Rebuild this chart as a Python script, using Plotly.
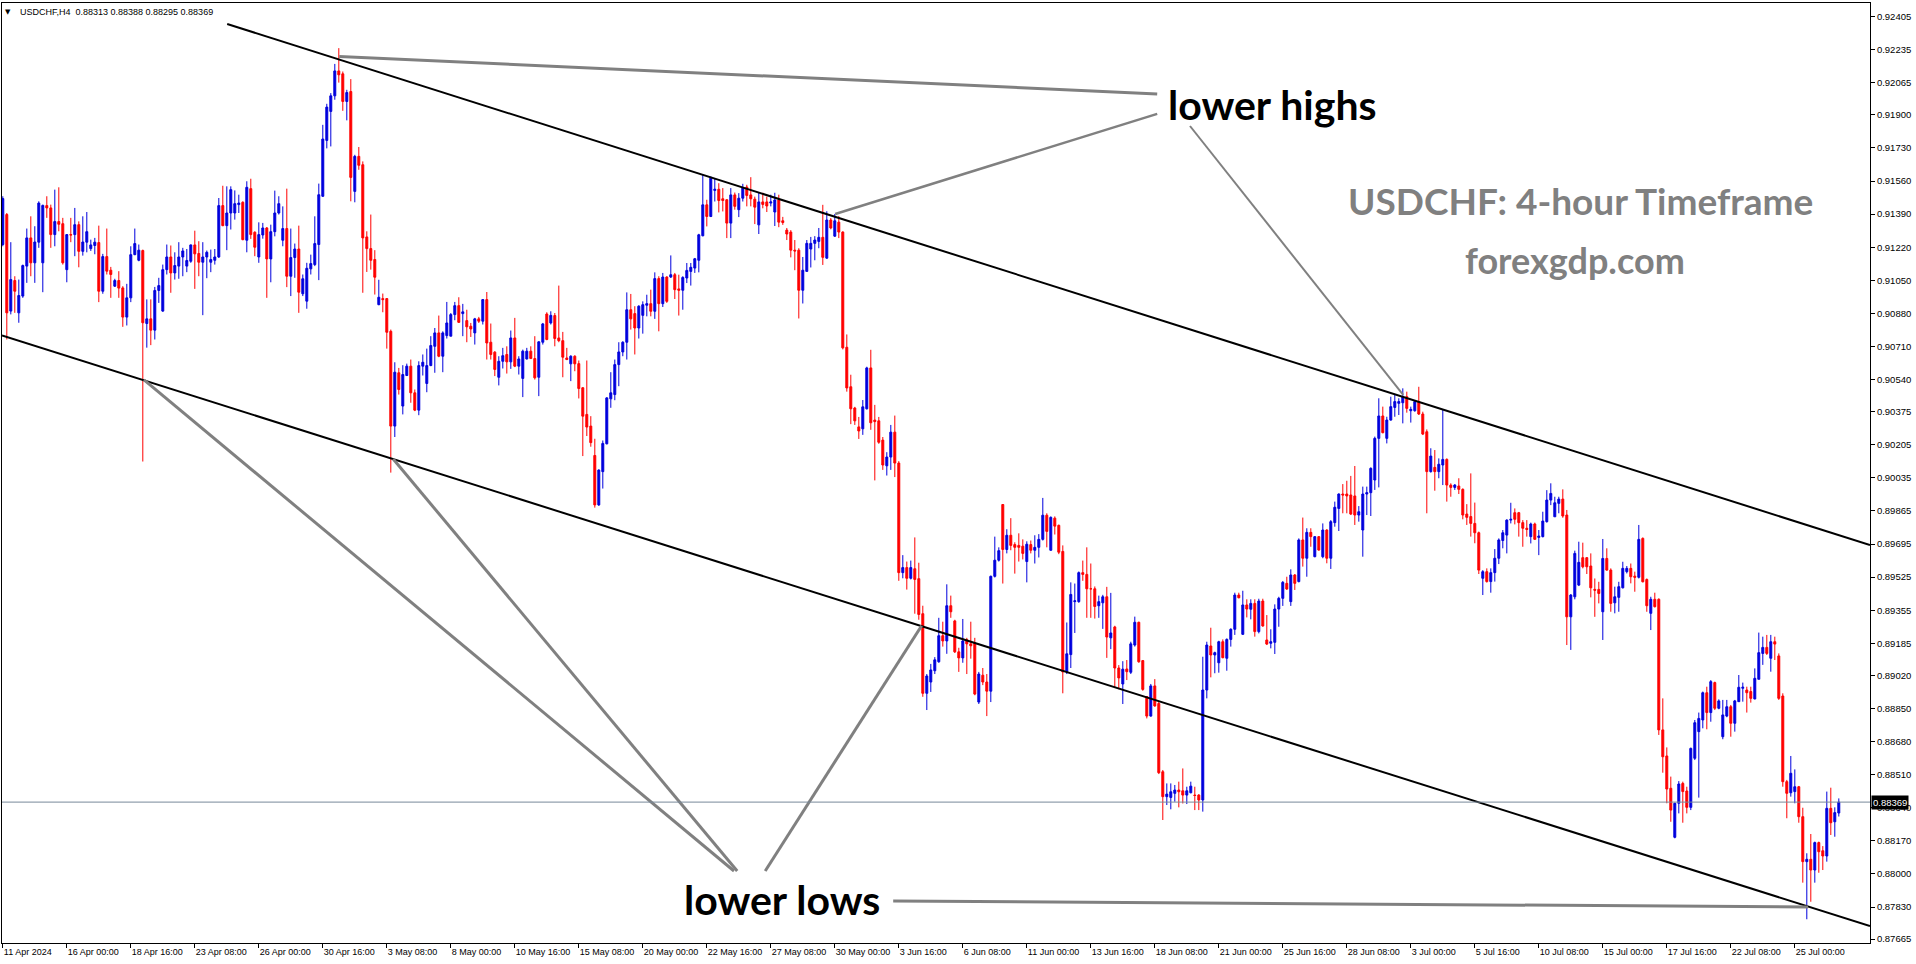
import plotly.graph_objects as go

# ---------------- data (prices in points, 1 point = 0.00001) ----------------
opens = [
    91234, 91388, 90892, 91049, 90883, 90969, 91123, 91268, 91140, 91246,
    91140, 91434, 91422, 91285, 91352, 91341, 91105, 91285, 91285, 91336,
    91199, 91246, 91213, 91229, 91244, 90994, 91172, 91102, 91020, 91049,
    91011, 90861, 90960, 91182, 91153, 91203, 90828, 90852, 90794, 90998,
    90892, 91105, 91170, 91088, 91123, 91170, 91123, 91148, 91232, 91188,
    91143, 91170, 91143, 91153, 91170, 91434, 91331, 91396, 91396, 91439,
    91451, 91256, 91521, 91297, 91170, 91283, 91319, 91160, 91300, 91396,
    91256, 91316, 91071, 91167, 91211, 90981, 90943, 91109, 91131, 91234,
    91482, 91769, 91918, 91998, 92126, 92111, 91969, 92020, 91507, 91687,
    91644, 91273, 91213, 91157, 90925, 90956, 90956, 90788, 90301, 90575,
    90404, 90561, 90609, 90472, 90383, 90609, 90520, 90612, 90711, 90780,
    90660, 90766, 90763, 90874, 90920, 90879, 90843, 90814, 90780, 90852,
    90840, 90951, 90732, 90681, 90552, 90634, 90669, 90631, 90754, 90609,
    90546, 90646, 90686, 90648, 90552, 90732, 90877, 90831, 90869, 90754,
    90740, 90651, 90621, 90660, 90622, 90498, 90361, 90301, 90150, 89896,
    90067, 90210, 90441, 90463, 90617, 90682, 90732, 90899, 90879, 90805,
    90870, 90922, 90930, 90891, 91059, 90930, 91067, 91067, 91079, 91006,
    90999, 91062, 91096, 91113, 91153, 91279, 91438, 91378, 91512, 91518,
    91469, 91464, 91344, 91489, 91413, 91472, 91529, 91489, 91467, 91335,
    91453, 91453, 91447, 91401, 91463, 91356, 91308, 91298, 91205, 91205,
    90999, 91096, 91211, 91240, 91250, 91271, 91164, 91360, 91277, 91349,
    91298, 90706, 90503, 90394, 90297, 90287, 90390, 90600, 90332, 90328,
    90229, 90097, 90142, 90270, 90111, 89548, 89574, 89519, 89568, 89517,
    89337, 88928, 88986, 89044, 89090, 89224, 89197, 89378, 89300, 89141,
    89110, 89203, 89182, 89186, 88883, 89021, 88986, 88939, 89529, 89612,
    89898, 89667, 89740, 89692, 89688, 89684, 89605, 89692, 89663, 89678,
    89719, 89843, 89663, 89828, 89791, 89657, 89038, 89127, 89399, 89399,
    89548, 89539, 89465, 89465, 89378, 89393, 89424, 89213, 89269, 89058,
    88976, 89053, 89036, 89176, 89293, 89096, 88911, 88811, 88966, 88876,
    88525, 88397, 88393, 88414, 88431, 88427, 88405, 88417, 88405, 88405,
    88380, 88945, 89171, 89125, 89085, 89193, 89108, 89205, 89257, 89433,
    89231, 89382, 89360, 89390, 89245, 89402, 89202, 89185, 89190, 89361,
    89416, 89493, 89399, 89536, 89502, 89716, 89622, 89755, 89630, 89733,
    89630, 89767, 89622, 89805, 89878, 89952, 89952, 89947, 89942, 89844,
    89767, 89952, 89959, 90024, 90238, 90353, 90238, 90332, 90397, 90418,
    90421, 90452, 90380, 90380, 90427, 90363, 90272, 90067, 90089, 90067,
    90101, 90130, 89998, 89986, 89993, 89976, 89849, 89836, 89801, 89753,
    89519, 89553, 89502, 89548, 89622, 89713, 89741, 89818, 89856, 89856,
    89805, 89776, 89733, 89798, 89729, 89733, 89810, 89921, 89835, 89904,
    89926, 89844, 89321, 89424, 89484, 89625, 89625, 89582, 89462, 89462,
    89347, 89621, 89561, 89393, 89421, 89470, 89553, 89570, 89530, 89524,
    89724, 89513, 89339, 89411, 89411, 88740, 88606, 88440, 88188, 88363,
    88465, 88426, 88342, 88594, 88731, 88791, 88931, 88829, 88983, 88851,
    88705, 88811, 88859, 88774, 88885, 88954, 88945, 88937, 88899, 89000,
    89133, 89164, 89108, 89193, 89120, 88914, 88474, 88417, 88423, 88448,
    88294, 88063, 88075, 88020, 88161, 88119, 88092, 88337, 88268, 88313,
]
highs = [
    91482, 91396, 91246, 91071, 91054, 91131, 91316, 91379, 91328, 91456,
    91439, 91482, 91439, 91516, 91528, 91371, 91288, 91371, 91422, 91353,
    91379, 91401, 91259, 91268, 91331, 91186, 91316, 91119, 91058, 91097,
    91020, 91032, 91225, 91316, 91234, 91208, 90952, 90952, 91016, 91063,
    91131, 91234, 91229, 91194, 91246, 91217, 91211, 91234, 91305, 91251,
    91246, 91203, 91208, 91211, 91473, 91536, 91533, 91533, 91512, 91490,
    91456, 91559, 91572, 91302, 91348, 91345, 91324, 91336, 91511, 91482,
    91430, 91521, 91316, 91239, 91331, 91080, 91140, 91182, 91379, 91547,
    91849, 91957, 92012, 92162, 92243, 92123, 92029, 92084, 91695, 91735,
    91661, 91302, 91388, 91205, 91053, 90982, 90959, 90797, 90629, 90600,
    90614, 90622, 90643, 90489, 90634, 90669, 90699, 90763, 90805, 90869,
    90788, 90939, 90882, 90939, 90963, 90929, 90899, 90831, 90857, 90862,
    90954, 90990, 90828, 90686, 90660, 90703, 90711, 90792, 90857, 90660,
    90694, 90703, 90711, 90763, 90737, 90831, 90886, 90891, 90882, 91023,
    90785, 90703, 90665, 90665, 90638, 90501, 90638, 90352, 90236, 90079,
    90227, 90450, 90578, 90643, 90732, 90737, 90988, 90980, 90917, 90922,
    90942, 90976, 91002, 91091, 91071, 91088, 91071, 91178, 91088, 91079,
    91071, 91139, 91139, 91165, 91289, 91592, 91464, 91584, 91575, 91549,
    91524, 91467, 91524, 91501, 91498, 91546, 91541, 91580, 91480, 91500,
    91500, 91480, 91490, 91500, 91490, 91376, 91319, 91308, 91257, 91215,
    91170, 91257, 91273, 91277, 91319, 91438, 91405, 91370, 91391, 91380,
    91302, 90772, 90565, 90400, 90348, 90435, 90606, 90693, 90410, 90348,
    90245, 90167, 90307, 90355, 90121, 89638, 89605, 89610, 89729, 89599,
    89378, 89027, 89079, 89114, 89316, 89296, 89488, 89430, 89306, 89162,
    89310, 89213, 89296, 89213, 89038, 89058, 89027, 89533, 89733, 89678,
    89900, 89771, 89828, 89704, 89750, 89719, 89709, 89713, 89740, 89746,
    89932, 89853, 89837, 89837, 89795, 89688, 89292, 89498, 89492, 89554,
    89610, 89678, 89595, 89477, 89430, 89434, 89475, 89444, 89275, 89073,
    89093, 89099, 89193, 89322, 89296, 89099, 88914, 88976, 89001, 88885,
    88534, 88465, 88465, 88457, 88474, 88542, 88448, 88474, 88448, 88410,
    89116, 89193, 89265, 89142, 89198, 89205, 89210, 89262, 89445, 89445,
    89455, 89411, 89411, 89411, 89414, 89414, 89330, 89257, 89385, 89424,
    89505, 89527, 89565, 89541, 89724, 89831, 89776, 89776, 89736, 89736,
    89801, 89771, 89818, 89913, 89955, 90003, 90020, 90045, 90096, 89890,
    89990, 89990, 90089, 90247, 90444, 90401, 90349, 90452, 90461, 90444,
    90495, 90478, 90401, 90435, 90503, 90375, 90284, 90187, 90178, 90135,
    90387, 90135, 90007, 90003, 90033, 89981, 89900, 90058, 89908, 89759,
    89561, 89570, 89570, 89669, 89724, 89767, 89822, 89907, 89878, 89860,
    89818, 89818, 89805, 89805, 89767, 89861, 89972, 90007, 89938, 89938,
    89976, 89870, 89438, 89661, 89707, 89702, 89627, 89647, 89518, 89501,
    89721, 89673, 89570, 89476, 89501, 89604, 89582, 89595, 89553, 89793,
    89729, 89518, 89424, 89445, 89416, 88902, 88650, 88500, 88366, 88477,
    88474, 88448, 88649, 88791, 88829, 88937, 88962, 88996, 88988, 88897,
    88894, 88894, 88868, 88894, 89022, 88983, 88962, 88962, 89056, 89240,
    89219, 89228, 89228, 89219, 89133, 88928, 88483, 88606, 88537, 88452,
    88340, 88106, 88205, 88166, 88166, 88143, 88423, 88443, 88342, 88388,
]
lows = [
    91225, 90746, 90875, 90883, 90832, 90960, 91037, 91071, 91037, 91217,
    90989, 91371, 91217, 91225, 91302, 91131, 91040, 91246, 91174, 91117,
    91177, 91194, 91201, 91184, 90938, 90981, 91080, 90960, 91016, 90960,
    90811, 90818, 90938, 91179, 91148, 90119, 90704, 90717, 90746, 90934,
    90888, 91080, 90986, 91054, 91058, 91071, 91092, 91140, 91006, 91071,
    90871, 91061, 91092, 91131, 91165, 91328, 91205, 91311, 91362, 91396,
    91256, 91194, 91263, 91174, 91140, 91264, 90960, 91040, 91276, 91388,
    91225, 91015, 90969, 91063, 90883, 90969, 90904, 91080, 91123, 91051,
    91478, 91728, 91738, 91978, 92066, 91921, 91872, 91456, 91451, 91618,
    90986, 91093, 91105, 90977, 90922, 90886, 90699, 90062, 90245, 90463,
    90361, 90558, 90421, 90378, 90357, 90561, 90475, 90609, 90575, 90655,
    90578, 90751, 90763, 90845, 90831, 90763, 90732, 90759, 90720, 90831,
    90823, 90643, 90643, 90558, 90510, 90597, 90571, 90595, 90604, 90566,
    90450, 90643, 90648, 90540, 90455, 90720, 90742, 90823, 90711, 90732,
    90552, 90640, 90532, 90583, 90443, 90147, 90250, 90195, 89882, 89891,
    89980, 90207, 90395, 90434, 90506, 90660, 90643, 90797, 90669, 90751,
    90776, 90865, 90865, 90852, 90788, 90913, 90934, 91062, 90954, 90869,
    90899, 91036, 91023, 91088, 91091, 91276, 91327, 91375, 91455, 91399,
    91404, 91267, 91267, 91413, 91375, 91455, 91430, 91430, 91339, 91288,
    91420, 91401, 91430, 91329, 91323, 91335, 91257, 91168, 91102, 90854,
    90931, 91096, 91116, 91153, 91215, 91129, 91160, 91312, 91273, 91267,
    90695, 90478, 90311, 90307, 90235, 90256, 90386, 90282, 90022, 90210,
    90076, 90047, 90076, 90039, 89506, 89519, 89461, 89513, 89337, 89306,
    88910, 88842, 88935, 89027, 89085, 89168, 89131, 89316, 89135, 89038,
    89085, 89027, 89106, 88918, 88873, 88970, 88811, 88883, 89523, 89605,
    89492, 89647, 89663, 89543, 89605, 89616, 89498, 89647, 89595, 89626,
    89713, 89678, 89661, 89744, 89643, 88928, 89027, 89058, 89238, 89393,
    89506, 89316, 89316, 89312, 89316, 89259, 89110, 89155, 88955, 88949,
    88873, 88996, 89027, 89168, 89085, 88941, 88799, 88808, 88859, 88513,
    88277, 88354, 88332, 88371, 88342, 88362, 88359, 88414, 88328, 88328,
    88320, 88902, 89010, 89031, 89034, 89108, 89044, 89168, 89228, 89416,
    89228, 89318, 89308, 89219, 89236, 89270, 89176, 89159, 89130, 89270,
    89377, 89459, 89377, 89459, 89498, 89579, 89527, 89681, 89627, 89661,
    89622, 89596, 89567, 89784, 89762, 89853, 89853, 89844, 89793, 89810,
    89630, 89844, 89839, 89973, 89986, 90264, 90212, 90329, 90349, 90358,
    90315, 90370, 90319, 90375, 90358, 90255, 89853, 90062, 89969, 90033,
    89998, 89913, 89938, 89973, 89952, 89822, 89793, 89733, 89699, 89541,
    89433, 89497, 89445, 89502, 89592, 89673, 89647, 89801, 89796, 89733,
    89681, 89733, 89698, 89716, 89638, 89729, 89805, 89895, 89835, 89853,
    89830, 89176, 89151, 89411, 89479, 89570, 89541, 89421, 89321, 89390,
    89202, 89558, 89347, 89339, 89347, 89467, 89544, 89493, 89450, 89518,
    89498, 89347, 89253, 89369, 88714, 88520, 88363, 88268, 88183, 88311,
    88263, 88311, 88328, 88585, 88392, 88748, 88743, 88782, 88842, 88846,
    88692, 88805, 88705, 88731, 88885, 88885, 88829, 88880, 88897, 89000,
    89074, 89125, 89039, 89099, 88894, 88448, 88286, 88397, 88363, 88263,
    87955, 87767, 87857, 87955, 88006, 88020, 88063, 88200, 88191, 88295,
]
closes = [
    91470, 90883, 91054, 90994, 90972, 91126, 91268, 91140, 91247, 91447,
    91435, 91422, 91285, 91352, 91338, 91140, 91285, 91283, 91336, 91199,
    91247, 91300, 91232, 91246, 90994, 91172, 91097, 91080, 91049, 91010,
    90861, 90960, 91182, 91239, 91205, 90832, 90852, 90794, 90998, 91023,
    91105, 91170, 91088, 91126, 91170, 91201, 91152, 91232, 91186, 91143,
    91170, 91194, 91157, 91170, 91434, 91331, 91396, 91516, 91444, 91447,
    91259, 91528, 91285, 91220, 91285, 91319, 91160, 91300, 91396, 91444,
    91316, 91071, 91167, 91211, 90989, 91058, 91112, 91136, 91239, 91490,
    91776, 91940, 91998, 92126, 92106, 91969, 92015, 91579, 91687, 91641,
    91268, 91213, 91153, 91066, 90963, 90951, 90783, 90301, 90578, 90489,
    90566, 90609, 90472, 90383, 90612, 90629, 90612, 90715, 90780, 90660,
    90780, 90831, 90874, 90920, 90834, 90888, 90811, 90800, 90852, 90840,
    90951, 90728, 90669, 90592, 90634, 90663, 90631, 90754, 90609, 90646,
    90686, 90686, 90648, 90549, 90734, 90826, 90746, 90870, 90751, 90740,
    90655, 90643, 90660, 90621, 90494, 90352, 90296, 90216, 89896, 90075,
    90212, 90446, 90472, 90617, 90682, 90732, 90899, 90852, 90805, 90917,
    90925, 90930, 90891, 91059, 90930, 91067, 90942, 91079, 91002, 90999,
    91065, 91101, 91117, 91161, 91284, 91438, 91378, 91575, 91518, 91460,
    91460, 91344, 91489, 91430, 91472, 91524, 91486, 91469, 91426, 91453,
    91440, 91432, 91453, 91463, 91349, 91347, 91288, 91205, 91201, 90999,
    91102, 91240, 91240, 91257, 91271, 91168, 91360, 91319, 91356, 91298,
    90703, 90497, 90390, 90328, 90276, 90400, 90600, 90318, 90324, 90218,
    90101, 90142, 90270, 90111, 89548, 89574, 89519, 89574, 89513, 89333,
    88928, 89017, 89048, 89100, 89224, 89197, 89378, 89347, 89141, 89110,
    89197, 89182, 89172, 88924, 89027, 88986, 88939, 89529, 89612, 89661,
    89667, 89740, 89688, 89678, 89678, 89647, 89694, 89663, 89678, 89719,
    89843, 89760, 89832, 89787, 89653, 89038, 89131, 89436, 89403, 89548,
    89539, 89465, 89465, 89374, 89399, 89424, 89217, 89238, 89058, 89007,
    89052, 89039, 89182, 89293, 89090, 88948, 88811, 88966, 88863, 88520,
    88397, 88410, 88422, 88431, 88422, 88405, 88427, 88451, 88403, 88380,
    88945, 89176, 89125, 89137, 89193, 89111, 89205, 89257, 89433, 89419,
    89382, 89361, 89390, 89245, 89402, 89274, 89181, 89193, 89361, 89416,
    89498, 89464, 89536, 89493, 89716, 89622, 89755, 89733, 89733, 89664,
    89767, 89622, 89810, 89884, 89952, 89947, 89942, 89849, 89844, 89861,
    89952, 89959, 90084, 90238, 90353, 90267, 90332, 90401, 90427, 90427,
    90452, 90392, 90387, 90427, 90363, 90260, 90067, 90147, 90067, 90105,
    90130, 89998, 89986, 89998, 89976, 89844, 89832, 89801, 89753, 89561,
    89553, 89502, 89548, 89622, 89716, 89753, 89818, 89822, 89822, 89805,
    89776, 89770, 89798, 89719, 89736, 89813, 89921, 89955, 89907, 89926,
    89839, 89321, 89433, 89647, 89601, 89578, 89578, 89470, 89458, 89441,
    89621, 89561, 89390, 89424, 89476, 89570, 89570, 89527, 89524, 89719,
    89501, 89378, 89411, 89373, 88740, 88602, 88436, 88328, 88363, 88462,
    88423, 88342, 88645, 88777, 88799, 88931, 88829, 88988, 88851, 88889,
    88817, 88859, 88774, 88889, 88959, 88959, 88931, 88902, 89005, 89137,
    89164, 89133, 89193, 89181, 88902, 88474, 88414, 88517, 88448, 88294,
    88063, 88075, 88020, 88161, 88114, 88092, 88337, 88263, 88315, 88369,
]
POINT = 1e-5

# x-axis: bar index -> time label (a label every 16 H4 bars)
tick_labels = [
    "11 Apr 2024", "16 Apr 00:00", "18 Apr 16:00", "23 Apr 08:00", "26 Apr 00:00",
    "30 Apr 16:00", "3 May 08:00", "8 May 00:00", "10 May 16:00", "15 May 08:00",
    "20 May 00:00", "22 May 16:00", "27 May 08:00", "30 May 00:00", "3 Jun 16:00",
    "6 Jun 08:00", "11 Jun 00:00", "13 Jun 16:00", "18 Jun 08:00", "21 Jun 00:00",
    "25 Jun 16:00", "28 Jun 08:00", "3 Jul 00:00", "5 Jul 16:00", "10 Jul 08:00",
    "15 Jul 00:00", "17 Jul 16:00", "22 Jul 08:00", "25 Jul 00:00",
]
tick_bars = [16 * k for k in range(len(tick_labels))]

price_ticks = [
    0.92405, 0.92235, 0.92065, 0.91900, 0.91730, 0.91560, 0.91390, 0.91220,
    0.91050, 0.90880, 0.90710, 0.90540, 0.90375, 0.90205, 0.90035, 0.89865,
    0.89695, 0.89525, 0.89355, 0.89185, 0.89020, 0.88850, 0.88680, 0.88510,
    0.88340, 0.88170, 0.88000, 0.87830, 0.87665,
]
current_price = 0.88369

# channel trend lines (bar, price)
upper_channel_bars = [56.1, 466.8]
upper_channel_prices = [0.92367, 0.89690]
lower_channel_bars = [-0.2, 466.8]
lower_channel_prices = [0.90767, 0.87732]

# grey pointer lines (bar, price)
pointer_lines = [
    ([84.1, 288.6], [0.92200, 0.92008], 3),
    ([208.1, 288.6], [0.91391, 0.91905], 2.5),
    ([296.8, 350.1], [0.91843, 0.90461], 2),
    ([35.3, 182.8], [0.90538, 0.88015], 3),
    ([97.6, 183.6], [0.90132, 0.88015], 3),
    ([229.7, 190.6], [0.89275, 0.88015], 3),
    ([222.6, 451.3], [0.87861, 0.87830], 3),
]

bars = list(range(len(closes)))

fig = go.Figure()
fig.add_trace(go.Candlestick(
    x=bars,
    open=[v * POINT for v in opens],
    high=[v * POINT for v in highs],
    low=[v * POINT for v in lows],
    close=[v * POINT for v in closes],
    increasing=dict(line=dict(color="#0000dd", width=1), fillcolor="#0000dd"),
    decreasing=dict(line=dict(color="#ff0000", width=1), fillcolor="#ff0000"),
    whiskerwidth=0,
    hoverinfo="skip",
    showlegend=False,
))

fig.add_trace(go.Scatter(x=upper_channel_bars, y=upper_channel_prices, mode="lines",
                         line=dict(color="black", width=2), hoverinfo="skip", showlegend=False))
fig.add_trace(go.Scatter(x=lower_channel_bars, y=lower_channel_prices, mode="lines",
                         line=dict(color="black", width=2), hoverinfo="skip", showlegend=False))
for bx, py, w in pointer_lines:
    fig.add_trace(go.Scatter(x=bx, y=py, mode="lines",
                             line=dict(color="#808080", width=w), hoverinfo="skip", showlegend=False))

fig.add_hline(y=current_price, line=dict(color="#778899", width=1))

annotations = [
    dict(x=317.3, y=0.91956, xref="x", yref="y", text="lower highs", showarrow=False,
         font=dict(family="Lato", size=41, color="black", weight="bold")),
    dict(x=194.9, y=0.87866, xref="x", yref="y", text="lower lows", showarrow=False,
         font=dict(family="Lato", size=41, color="black", weight="bold")),
    dict(x=394.4, y=0.91458, xref="x", yref="y", text="USDCHF: 4-hour Timeframe", showarrow=False,
         font=dict(family="Lato", size=37, color="#808080", weight="bold")),
    dict(x=393.1, y=0.91155, xref="x", yref="y", text="forexgdp.com", showarrow=False,
         font=dict(family="Lato", size=36, color="#808080", weight="bold")),
    dict(x=0.0086, y=1, xref="paper", yref="paper", xanchor="left", yanchor="top", yshift=-2,
         text="USDCHF,H4\u00a0\u00a00.88313 0.88388 0.88295 0.88369", showarrow=False,
         font=dict(family="Liberation Sans", size=9, color="black")),
    dict(x=0.0032, y=1, xref="paper", yref="paper", xanchor="center", yanchor="top", yshift=-3,
         text="\u25bc", showarrow=False, font=dict(family="DejaVu Sans", size=7, color="black")),
    dict(x=1, y=current_price, xref="paper", yref="y", xanchor="left", yanchor="middle", xshift=1,
         text="0.88369", showarrow=False, bgcolor="black", borderpad=1,
         font=dict(family="Liberation Sans", size=9.5, color="white")),
]

fig.update_layout(
    width=1916, height=964,
    margin=dict(l=2, r=46, t=3, b=21),
    paper_bgcolor="white", plot_bgcolor="white",
    showlegend=False,
    annotations=annotations,
    xaxis=dict(
        range=[-0.2, 466.8], showgrid=False, zeroline=False,
        showline=True, linecolor="black", linewidth=1, mirror=True,
        ticks="outside", ticklen=4, tickcolor="black",
        tickvals=tick_bars, ticktext=tick_labels,
        ticklabelposition="outside right",
        tickfont=dict(family="Liberation Sans", size=9, color="black"),
        rangeslider=dict(visible=False),
    ),
    yaxis=dict(
        side="right", range=[0.87645, 0.92475], showgrid=False, zeroline=False,
        showline=True, linecolor="black", linewidth=1, mirror=True,
        ticks="outside", ticklen=4, tickcolor="black",
        tickvals=price_ticks, ticktext=[f"{v:.5f}" for v in price_ticks],
        tickfont=dict(family="Liberation Sans", size=9.5, color="black"),
    ),
)

fig.write_html(
    "out.html",
    config={"displayModeBar": False},
    post_script="document.body.style.margin='0';document.body.style.overflow='hidden';",
)
